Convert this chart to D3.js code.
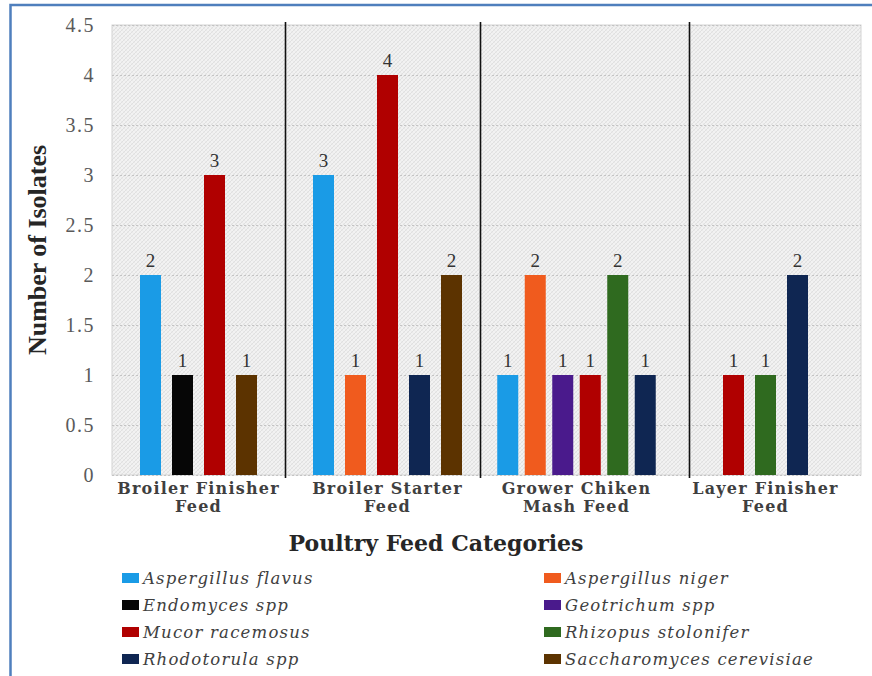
<!DOCTYPE html>
<html>
<head>
<meta charset="utf-8">
<script src="https://cdn.jsdelivr.net/npm/d3@7"></script>
<style>
  html, body { margin: 0; padding: 0; background: #fff; }
  svg { display: block; }
</style>
</head>
<body>
<svg id="chart" width="872" height="676"></svg>
<script>
// Feed categories, split over two lines for the axis labels
const categories = ["Broiler Finisher Feed", "Broiler Starter Feed", "Grower Chiken Mash Feed", "Layer Finisher Feed"];
const categoryLines = [["Broiler Finisher", "Feed"], ["Broiler Starter", "Feed"], ["Grower Chiken", "Mash Feed"], ["Layer Finisher", "Feed"]];

// Fungal species (series) and their colours
const species = ["Aspergillus flavus", "Aspergillus niger", "Endomyces spp", "Geotrichum spp",
                 "Mucor racemosus", "Rhizopus stolonifer", "Rhodotorula spp", "Saccharomyces cerevisiae"];
const speciesColors = ["#1a9be6", "#f05b1e", "#060606", "#4a1a8c", "#b00000", "#2f6a1f", "#0f2652", "#5c3300"];

// Number of isolates per species, one value per category
const aspergillusFlavus = [2, 3, 1, 0];
const aspergillusNiger = [0, 1, 2, 0];
const endomyces = [1, 0, 0, 0];
const geotrichum = [0, 0, 1, 0];
const mucorRacemosus = [3, 4, 1, 1];
const rhizopusStolonifer = [0, 0, 2, 1];
const rhodotorula = [0, 1, 1, 2];
const saccharomycesCerevisiae = [1, 2, 0, 0];
const seriesValues = [aspergillusFlavus, aspergillusNiger, endomyces, geotrichum,
                      mucorRacemosus, rhizopusStolonifer, rhodotorula, saccharomycesCerevisiae];

const yTicks = [0, 0.5, 1, 1.5, 2, 2.5, 3, 3.5, 4, 4.5];

const svg = d3.select("#chart");
const plot = { left: 112, right: 861, top: 25, bottom: 475 };

const y = d3.scaleLinear().domain([0, 4.5]).range([plot.bottom, plot.top]);
const x = d3.scaleBand().domain(categories).range([104, 860]).padding(0);

// Outer frame
svg.append("rect")
  .attr("x", 10.5).attr("y", 5).attr("width", 900).attr("height", 700)
  .attr("fill", "none").attr("stroke", "#4f7fbd").attr("stroke-width", 2.5);

// Fine cross-hatch fill for the plot area
const defs = svg.append("defs");
const pat = defs.append("pattern")
  .attr("id", "hatch").attr("patternUnits", "userSpaceOnUse")
  .attr("width", 4).attr("height", 4);
pat.append("rect").attr("width", 4).attr("height", 4).attr("fill", "#f2f2f2");
pat.append("path").attr("d", "M0,4 L4,0 M-1,1 L1,-1 M3,5 L5,3")
  .attr("stroke", "#dcdcdc").attr("stroke-width", 0.8);
pat.append("path").attr("d", "M0,0 L4,4")
  .attr("stroke", "#e4e4e4").attr("stroke-width", 0.6);

svg.append("rect")
  .attr("x", plot.left).attr("y", plot.top)
  .attr("width", plot.right - plot.left).attr("height", plot.bottom - plot.top)
  .attr("fill", "url(#hatch)").attr("stroke", "#d4d4d4").attr("stroke-width", 1);

// Horizontal gridlines and value ticks
const yAxis = d3.axisLeft(y).tickValues(yTicks).tickSize(-(plot.right - plot.left))
  .tickFormat(d3.format("~g")).tickPadding(17);
const gy = svg.append("g").attr("transform", `translate(${plot.left},0)`).call(yAxis);
gy.attr("font-family", null).attr("font-size", null);
gy.select(".domain").remove();
gy.selectAll(".tick line")
  .attr("stroke", "#c4c4c4").attr("stroke-dasharray", "2,2").attr("stroke-width", 1);
gy.selectAll(".tick text")
  .style("font-family", "'Liberation Serif', 'Times New Roman', serif")
  .style("font-size", "20px")
  .style("letter-spacing", "1.5px")
  .attr("fill", "#5a5a5a");

// Bars: only the species present in a category are drawn, centred in its band
const barWidth = 21;
const groups = categories.map((cat, ci) => {
  const items = species.map((s, si) => ({ species: s, color: speciesColors[si], value: seriesValues[si][ci] }))
    .filter(d => d.value > 0);
  const n = items.length;
  const step = Math.min(32, 165 / n);
  const center = x(cat) + x.bandwidth() / 2;
  items.forEach((d, i) => { d.cx = center + (i - (n - 1) / 2) * step; });
  return { cat, items, left: items[0].cx - barWidth / 2, right: items[n - 1].cx + barWidth / 2 };
});

// Category separators halfway between neighbouring clusters
for (let i = 0; i < groups.length - 1; i++) {
  const sx = Math.round((groups[i].right + groups[i + 1].left) / 2) + 0.5;
  svg.append("line")
    .attr("x1", sx).attr("x2", sx).attr("y1", plot.top - 3).attr("y2", plot.bottom + 3)
    .attr("stroke", "#111").attr("stroke-width", 1.6);
}

const allBars = groups.flatMap(g => g.items);
svg.append("g").selectAll("rect").data(allBars).join("rect")
  .attr("x", d => d.cx - barWidth / 2)
  .attr("width", barWidth)
  .attr("y", d => y(d.value))
  .attr("height", d => y(0) - y(d.value))
  .attr("fill", d => d.color);

// Value labels
svg.append("g").selectAll("text").data(allBars).join("text")
  .attr("x", d => d.cx)
  .attr("y", d => y(d.value) - 8)
  .attr("text-anchor", "middle")
  .style("font-family", "'Liberation Serif', 'Times New Roman', serif")
  .style("font-size", "19px")
  .attr("fill", "#333")
  .text(d => d3.format("~g")(d.value));

// Category labels
const xl = svg.append("g");
categories.forEach((cat, ci) => {
  const cx = x(cat) + x.bandwidth() / 2;
  const t = xl.append("text")
    .attr("text-anchor", "middle")
    .style("font-family", "'DejaVu Serif', serif")
    .style("font-weight", "bold")
    .style("font-size", "16px")
    .style("letter-spacing", "1.2px")
    .attr("fill", "#3f3f3f");
  categoryLines[ci].forEach((line, li) => {
    t.append("tspan").attr("x", cx).attr("y", 494 + li * 18).text(line);
  });
});

// Axis titles
svg.append("text")
  .attr("x", 436).attr("y", 551)
  .attr("text-anchor", "middle")
  .style("font-family", "'DejaVu Serif', serif")
  .style("font-weight", "bold")
  .style("font-size", "22px")
  .attr("fill", "#262626")
  .text("Poultry Feed Categories");

svg.append("text")
  .attr("transform", "translate(46,250) rotate(-90)")
  .attr("text-anchor", "middle")
  .style("font-family", "'Liberation Serif', 'Times New Roman', serif")
  .style("font-weight", "bold")
  .style("font-size", "25px")
  .attr("textLength", 210)
  .attr("lengthAdjust", "spacingAndGlyphs")
  .attr("fill", "#262626")
  .text("Number of Isolates");

// Legend: two columns, filled row by row
const legend = svg.append("g");
const legendCols = [122, 544];
species.forEach((s, i) => {
  const col = i % 2, row = Math.floor(i / 2);
  const lx = legendCols[col], ly = 578 + row * 27;
  legend.append("rect")
    .attr("x", lx).attr("y", ly - 5).attr("width", 17).attr("height", 10)
    .attr("fill", speciesColors[i]);
  legend.append("text")
    .attr("x", lx + 21).attr("y", ly + 5.5)
    .style("font-family", "'DejaVu Serif', serif")
    .style("font-style", "italic")
    .style("font-size", "16.5px")
    .style("letter-spacing", "1.2px")
    .attr("fill", "#404040")
    .text(s);
});
</script>
</body>
</html>
